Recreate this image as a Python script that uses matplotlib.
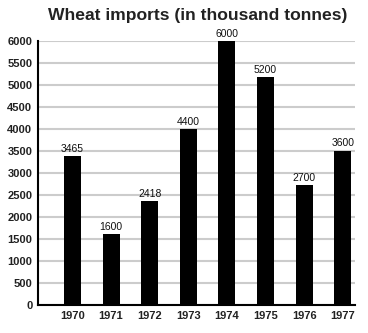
import matplotlib
matplotlib.use('Agg')
import matplotlib.pyplot as plt

plt.rcParams['font.family'] = ['Liberation Sans', 'DejaVu Sans']

years = ['1970', '1971', '1972', '1973', '1974', '1975', '1976', '1977']
# bar heights as drawn in the picture
heights = [3380, 1620, 2370, 4000, 6000, 5170, 2730, 3510]
# values printed above the bars
labels = ['3465', '1600', '2418', '4400', '6000', '5200', '2700', '3600']
yticks = list(range(0, 6001, 500))

fig = plt.figure(figsize=(3.68, 3.33), dpi=100)
ax = fig.add_axes([0.103, 0.084, 0.862, 0.793])

x = list(range(len(years)))
ax.bar(x, heights, width=0.44, color='black', zorder=3)
for xi, h, lab in zip(x, heights, labels):
    ax.text(xi, h + 50, lab, ha='center', va='bottom', fontsize=7.5, color='#111111')

ax.set_xlim(-0.894, 7.32)
ax.set_ylim(0, 6000)
ax.set_xticks(x)
ax.set_xticklabels(years, fontsize=8, fontweight='bold', color='#222222')
ax.set_yticks(yticks)
ax.set_yticklabels([str(v) for v in yticks], fontsize=8, fontweight='bold', color='#222222')
ax.tick_params(length=0, pad=4)
ax.grid(axis='y', color='#cccccc', linewidth=1.5, zorder=0)
ax.spines['top'].set_visible(False)
ax.spines['right'].set_visible(False)
ax.spines['left'].set_linewidth(1.5)
ax.spines['bottom'].set_linewidth(1.5)

fig.text(0.538, 0.953, 'Wheat imports (in thousand tonnes)', ha='center', va='center',
         fontsize=12.6, fontweight='bold', color='#222222')

fig.savefig('out.png', dpi=100)
